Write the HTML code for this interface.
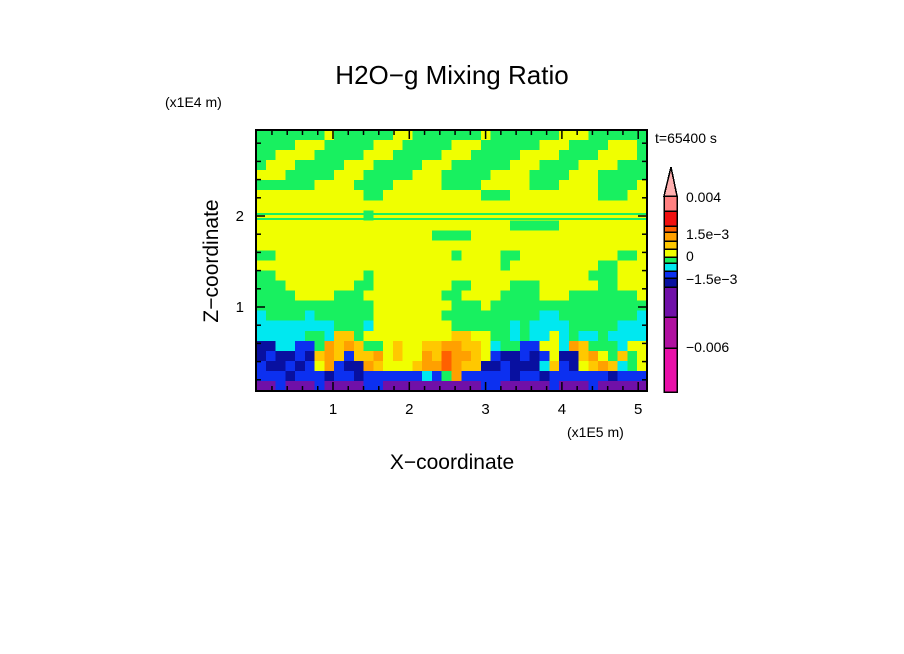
<!DOCTYPE html>
<html><head><meta charset="utf-8"><style>
html,body{margin:0;padding:0;background:#fff;}
svg{display:block;font-family:"Liberation Sans","DejaVu Sans",sans-serif;}
</style></head><body>
<svg id="chart" width="904" height="654" viewBox="0 0 904 654">
<text x="452" y="84" text-anchor="middle" font-size="26">H2O−g Mixing Ratio</text>
<text x="165" y="107" font-size="14">(x1E4 m)</text>
<text x="655" y="143" font-size="14">t=65400 s</text>
<text x="567" y="437" font-size="14">(x1E5 m)</text>
<text x="452" y="469" text-anchor="middle" font-size="21">X−coordinate</text>
<text transform="translate(218,261) rotate(-90)" text-anchor="middle" font-size="21">Z−coordinate</text>
<g id="heat" shape-rendering="crispEdges"></g>
<g id="axes"></g>
<g id="cbar" shape-rendering="crispEdges"></g>
</svg>
<script>
const levelColors = ["#e810a8","#b010a0","#7010a8","#0810a0","#0c30f0","#00e8f0","#18f060","#f0ff00","#ffc800","#ffa000","#ff6000","#f01010","#ff8080"];
const gridRows = [
"6666666766666677666666676666666777666666",
"6666777666667776666677766666677766667776",
"6677776666677766666777666667777666677776",
"6777666667776666677766666677766667777666",
"7776666677766666777666667777666677766666",
"6666667777666677777666677777666777766667",
"7777777777766777777777766677777777766677",
"7777777777777777777777777777777777777777",
"7777777777767777777777777777777777777777",
"7777777777777777777777777766666777777777",
"7777777777777777776666777777777777777777",
"7777777777777777777777777777777777777777",
"6677777777777777777767777667777777777667",
"7777777777777777777777777677777777766777",
"6677777777767777777777777777777777666777",
"6667777777667777777766777766677777766777",
"6666777766677777777667777666677766666667",
"6666666666667777777766676666666666666666",
"5666656666667777777666666666655666666665",
"5555555566657777777766666656555566666555",
"5555566588677777777788776656557565565555",
"3355446989866787788998875664477598666577",
"3433438984889787798a99874334347338976867",
"4334347943398777899a98833433358437898567",
"4443444344344444454694444434434444443444",
"2242224222244222222222244222224222422222"
];
const xTicks = [1,2,3,4,5];
const yTicks = [1,2];
const cbarLabels = [["0.004",197],["1.5e-3",234],["0",256],["-1.5e-3",279],["-0.006",347]];
const cbarBounds = [392,348,317,287,278,271,263,257,249,241,232,226,211,196];

const NS="http://www.w3.org/2000/svg";
const PX0=256, PX1=647, PY0=130, PY1=391;
const xs = v => 256.7 + v*76.3;
const ys = v => 398 - v*91;
function mk(t,a,p){const e=document.createElementNS(NS,t);for(const k in a)e.setAttribute(k,a[k]);p.appendChild(e);return e;}

const heat=document.getElementById('heat');
const nr=gridRows.length, nc=gridRows[0].length;
const cw=(PX1-PX0)/nc, ch=(PY1-PY0)/nr;
gridRows.forEach((row,r)=>{
  for(let c=0;c<nc;c++){
    const lv=parseInt(row[c],16);
    const e=mk('rect',{x:PX0+c*cw,y:PY0+r*ch,width:cw+0.6,height:ch+0.6,fill:levelColors[lv]},heat);
    
    
  }
});
[213,218].forEach(y=>{const e=mk('rect',{x:PX0,y:y,width:PX1-PX0,height:2,fill:levelColors[6]},heat);

});

const ax=document.getElementById('axes');
const f=mk('rect',{x:PX0,y:PY0,width:PX1-PX0,height:PY1-PY0,fill:'none',stroke:'#000','stroke-width':2},ax);


for(let v=0.2;v<5.12;v+=0.2){const x=xs(v);const maj=Math.abs(v-Math.round(v))<0.01;const L=maj?9:5;
 mk('line',{x1:x,y1:PY1,x2:x,y2:PY1-L,stroke:'#000','stroke-width':1.5},ax);
 mk('line',{x1:x,y1:PY0,x2:x,y2:PY0+L,stroke:'#000','stroke-width':1.5},ax);}
for(let v=0.2;v<2.9;v+=0.2){const y=ys(v);if(y<PY0)break;const maj=Math.abs(v-Math.round(v))<0.01;const L=maj?9:5;
 mk('line',{x1:PX0,y1:y,x2:PX0+L,y2:y,stroke:'#000','stroke-width':1.5},ax);
 mk('line',{x1:PX1,y1:y,x2:PX1-L,y2:y,stroke:'#000','stroke-width':1.5},ax);}
xTicks.forEach(v=>{const t=mk('text',{x:xs(v),y:414,'text-anchor':'middle','font-size':15},ax);t.textContent=v;

});
yTicks.forEach(v=>{const t=mk('text',{x:244,y:ys(v)+5,'text-anchor':'end','font-size':15},ax);t.textContent=v;

});

const cb=document.getElementById('cbar');
for(let i=0;i<levelColors.length;i++){
  const e=mk('rect',{x:664,y:cbarBounds[i+1],width:13,height:cbarBounds[i]-cbarBounds[i+1],fill:levelColors[i],stroke:'#000','stroke-width':1.5},cb);
  
  
}
const tri=mk('polygon',{points:'664,196 677,196 671,167',fill:'#ffb0b0',stroke:'#000','stroke-width':1.5},cb);


cbarLabels.forEach(([s,y])=>{const t=mk('text',{x:686,y:y+5,'font-size':14},cb);t.textContent=s.replace(/-/g,'−');

});
</script>
</body></html>
